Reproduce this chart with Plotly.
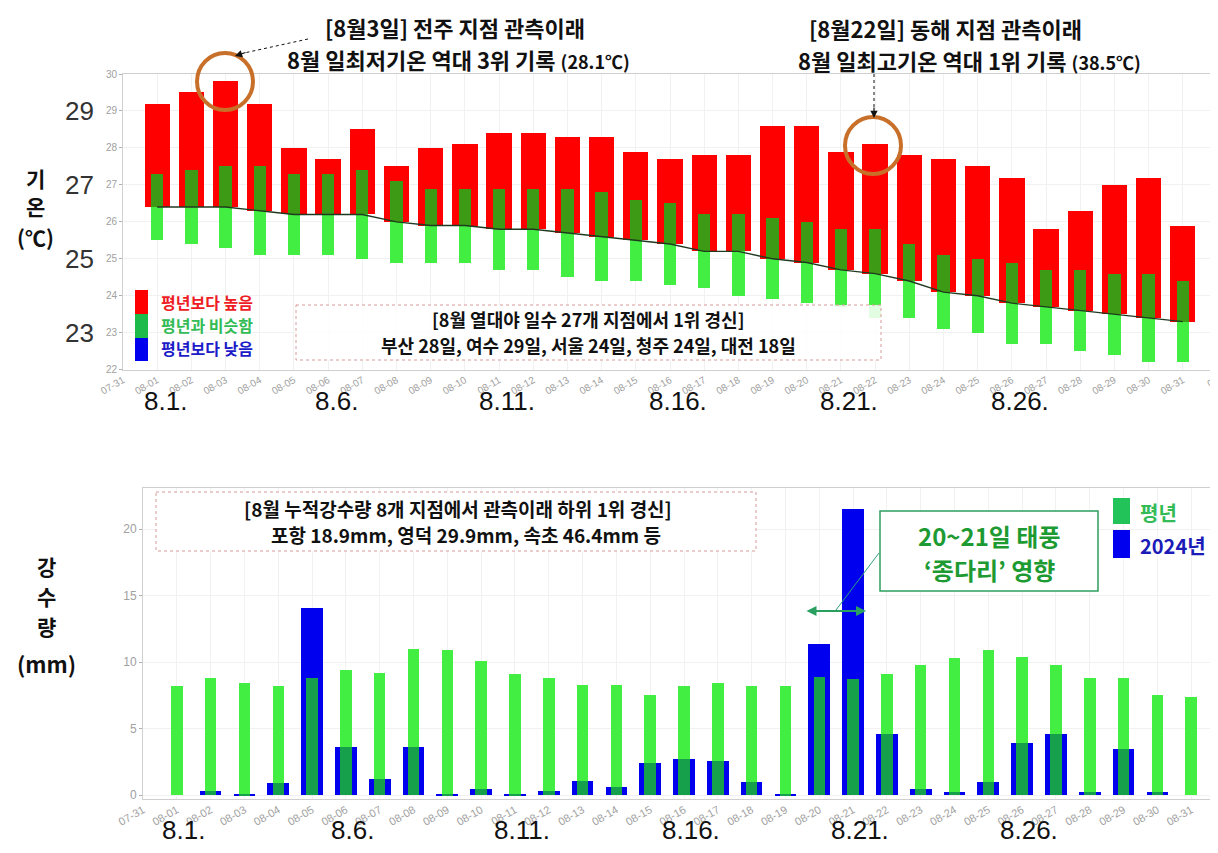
import plotly.graph_objects as go

W, H = 1218, 853

# ---------------- data ----------------
days = list(range(1, 32))
tick_vals = list(range(0, 33))
tick_labels = ["07-31"] + [f"08-{d:02d}" for d in range(1, 32)] + ["09"]
date_label_days = [1, 6, 11, 16, 21, 26]
date_labels = ["8.1.", "8.6.", "8.11.", "8.16.", "8.21.", "8.26."]

# daily minimum temperature (national mean), August 2024
obs_min = [29.2, 29.5, 29.8, 29.2, 28.0, 27.7, 28.5, 27.5, 28.0, 28.1, 28.4, 28.4, 28.3, 28.3, 27.9, 27.7,
           27.8, 27.8, 28.6, 28.6, 27.9, 28.1, 27.8, 27.7, 27.5, 27.2, 25.8, 26.3, 27.0, 27.2, 25.9]
normal = [26.4, 26.4, 26.4, 26.3, 26.2, 26.2, 26.2, 26.0, 25.9, 25.9, 25.8, 25.8, 25.7, 25.6, 25.5, 25.4,
          25.2, 25.2, 25.0, 24.9, 24.7, 24.6, 24.4, 24.1, 24.0, 23.8, 23.7, 23.6, 23.5, 23.4, 23.3]
normal_high = [27.3, 27.4, 27.5, 27.5, 27.3, 27.3, 27.4, 27.1, 26.9, 26.9, 26.9, 26.9, 26.9, 26.8, 26.6, 26.5,
               26.2, 26.2, 26.1, 26.0, 25.8, 25.8, 25.4, 25.1, 25.0, 24.9, 24.7, 24.7, 24.6, 24.6, 24.4]
normal_low = [25.5, 25.4, 25.3, 25.1, 25.1, 25.1, 25.0, 24.9, 24.9, 24.9, 24.7, 24.7, 24.5, 24.4, 24.4, 24.3,
              24.2, 24.0, 23.9, 23.8, 23.7, 23.4, 23.4, 23.1, 23.0, 22.7, 22.7, 22.5, 22.4, 22.2, 22.2]

# daily precipitation (mm)
rain_normal = [8.2, 8.8, 8.4, 8.2, 8.8, 9.4, 9.2, 11.0, 10.9, 10.1, 9.1, 8.8, 8.3, 8.3, 7.5, 8.2,
               8.4, 8.2, 8.2, 8.9, 8.7, 9.1, 9.8, 10.3, 10.9, 10.4, 9.8, 8.8, 8.8, 7.5, 7.4]
rain_2024 = [0.0, 0.3, 0.05, 0.9, 14.1, 3.6, 1.2, 3.6, 0.05, 0.45, 0.05, 0.3, 1.1, 0.65, 2.4, 2.7,
             2.6, 1.0, 0.05, 11.4, 21.5, 4.6, 0.45, 0.25, 1.0, 3.9, 4.6, 0.25, 3.5, 0.25, 0.0]

temp_ticks = [22, 23, 24, 25, 26, 27, 28, 29, 30]
temp_big_ticks = [29, 27, 25, 23]
rain_ticks = [0, 5, 10, 15, 20]

FONT = "Noto Sans CJK KR"
RED = "#ff0000"
LGREEN = "#42ee42"
DGREEN = "#3c9a14"
BLUE = "#0000ee"
OVER = "#17a04c"


def px(x):
    return x / W


def py(y):
    return 1 - y / H


fig = go.Figure()

# ---------------- top: temperature ----------------
fig.add_trace(go.Bar(x=days, y=[h - l for h, l in zip(normal_high, normal_low)], base=normal_low,
                     width=0.36, marker=dict(color=LGREEN, line=dict(width=0)),
                     xaxis="x", yaxis="y", showlegend=False))
fig.add_trace(go.Bar(x=days, y=[o - n for o, n in zip(obs_min, normal)], base=normal,
                     width=0.74, marker=dict(color=RED, line=dict(width=0)),
                     xaxis="x", yaxis="y", showlegend=False))
fig.add_trace(go.Bar(x=days, y=[min(h, o) - n for h, o, n in zip(normal_high, obs_min, normal)], base=normal,
                     width=0.36, marker=dict(color=DGREEN, line=dict(width=0)),
                     xaxis="x", yaxis="y", showlegend=False))
fig.add_trace(go.Scatter(x=days, y=normal, mode="lines", line=dict(color="#203a20", width=1.4),
                         xaxis="x", yaxis="y", showlegend=False))

# ---------------- bottom: precipitation ----------------
fig.add_trace(go.Bar(x=days, y=rain_2024, width=0.64, marker=dict(color=BLUE, line=dict(width=0)),
                     xaxis="x2", yaxis="y2", showlegend=False))
fig.add_trace(go.Bar(x=days, y=rain_normal, width=0.34, marker=dict(color=LGREEN, line=dict(width=0)),
                     xaxis="x2", yaxis="y2", showlegend=False))
fig.add_trace(go.Bar(x=days, y=[min(a, b) for a, b in zip(rain_normal, rain_2024)], width=0.34,
                     marker=dict(color=OVER, line=dict(width=0)),
                     xaxis="x2", yaxis="y2", showlegend=False))

axis_common = dict(showgrid=True, gridcolor="#f1f1f1", showline=True, linecolor="#cfcfcf", mirror=True,
                   zeroline=False, automargin=False)

fig.update_layout(
    width=W, height=H, margin=dict(l=0, r=0, t=0, b=0),
    paper_bgcolor="white", plot_bgcolor="white", barmode="overlay", bargap=0,
    font=dict(family=FONT, color="#111"),
    xaxis=dict(domain=[px(115), px(1209)], range=[0, 32], tickvals=tick_vals, ticktext=tick_labels,
               tickangle=-30, tickfont=dict(size=10, color="#a0a0a0", family="Liberation Sans"),
               anchor="y", **axis_common),
    yaxis=dict(domain=[py(361.7), py(66)], range=[22, 30], tickvals=temp_ticks,
               tickfont=dict(size=10, color="#a0a0a0", family="Liberation Sans"),
               ticks="outside", ticklen=3, tickcolor="#b0b0b0", anchor="x", **axis_common),
    xaxis2=dict(domain=[px(135), px(1217)], range=[0, 32], tickvals=tick_vals, ticktext=tick_labels,
                tickangle=-30, tickfont=dict(size=11, color="#a0a0a0", family="Liberation Sans"),
                anchor="y2", **axis_common),
    yaxis2=dict(domain=[py(790.5), py(480)], range=[-0.25, 23.1], tickvals=rain_ticks,
                tickfont=dict(size=12, color="#a0a0a0", family="Liberation Sans"),
                ticks="outside", ticklen=3, tickcolor="#b0b0b0", anchor="x2", **axis_common),
)

ann = []
shapes = []


def text(x, y, t, size, color="#111", bold=False, xanchor="center", family=FONT, **kw):
    ann.append(dict(x=px(x), y=py(y), xref="paper", yref="paper", text=(f"<b>{t}</b>" if bold else t),
                    showarrow=False, xanchor=xanchor, yanchor="middle",
                    font=dict(size=size, color=color, family=family), **kw))


# big y labels on the temperature panel
for v in temp_big_ticks:
    ann.append(dict(x=px(88), y=v, xref="paper", yref="y", text=str(v), showarrow=False, xanchor="right",
                    yanchor="middle", font=dict(size=26, color="#333", family="Liberation Sans")))

# big date labels
for d, lab in zip(date_label_days, date_labels):
    ann.append(dict(x=d, y=py(393), xref="x", yref="paper", text=lab, showarrow=False, xshift=8,
                    font=dict(size=26, color="#111", family="Liberation Sans")))
    ann.append(dict(x=d, y=py(839), xref="x2", yref="paper", text=lab, showarrow=False, xshift=7,
                    font=dict(size=26, color="#111", family="Liberation Sans")))

# y axis titles
text(27, 170, "기", 21, bold=True)
text(27, 198, "온", 21, bold=True)
text(27, 229, "(℃)", 21, bold=True)
text(38, 558, "강", 21, bold=True)
text(38, 588, "수", 21, bold=True)
text(38, 618, "량", 21, bold=True)
text(38, 655, "(mm)", 22, bold=True)

# top headline annotations
text(447, 19, "[8월3일] 전주 지점 관측이래", 22, bold=True)
text(450, 51, "8월 일최저기온 역대 3위 기록 <span style='font-size:18px'>(28.1℃)</span>", 22, bold=True)
text(937, 20, "[8월22일] 동해 지점 관측이래", 22, bold=True)
text(961, 52, "8월 일최고기온 역대 1위 기록 <span style='font-size:18px'>(38.5℃)</span>", 22, bold=True)

# dashed arrows
shapes.append(dict(type="line", xref="paper", yref="paper", x0=px(300), y0=py(31), x1=px(236), y1=py(45),
                   line=dict(color="#111", width=1, dash="dot")))
ann.append(dict(x=px(227), y=py(48), xref="paper", yref="paper", text="", showarrow=True, ax=12, ay=-4,
                arrowhead=2, arrowsize=1.2, arrowwidth=1.2, arrowcolor="#111"))
shapes.append(dict(type="line", xref="paper", yref="paper", x0=px(866), y0=py(66), x1=px(866), y1=py(100),
                   line=dict(color="#111", width=1, dash="dot")))
ann.append(dict(x=px(866), y=py(110), xref="paper", yref="paper", text="", showarrow=True, ax=0, ay=-12,
                arrowhead=2, arrowsize=1.2, arrowwidth=1.2, arrowcolor="#111"))

# highlight circles
shapes.append(dict(type="circle", xref="paper", yref="paper", x0=px(189), x1=px(245), y0=py(45), y1=py(102),
                   line=dict(color="#c8702a", width=4), layer="above"))
shapes.append(dict(type="circle", xref="paper", yref="paper", x0=px(837), x1=px(893), y0=py(109), y1=py(166),
                   line=dict(color="#c8702a", width=4), layer="above"))

# top legend
for (y0, y1, c) in [(282, 306, RED), (306, 330, "#1dbb4a"), (330, 353, BLUE)]:
    shapes.append(dict(type="rect", xref="paper", yref="paper", x0=px(127), x1=px(140), y0=py(y0), y1=py(y1),
                       fillcolor=c, line=dict(width=0), layer="above"))
text(151, 294, "평년보다 높음", 16, color="#ee1c24", bold=True, xanchor="left")
text(151, 317, "평년과 비슷함", 16, color="#33bb55", bold=True, xanchor="left")
text(151, 340, "평년보다 낮음", 16, color="#1b1bc8", bold=True, xanchor="left")

# top info box
shapes.append(dict(type="rect", xref="paper", yref="paper", x0=px(288), x1=px(873), y0=py(297), y1=py(352),
                   fillcolor="rgba(255,255,255,0.85)", line=dict(color="#d89a9a", width=1, dash="dot"),
                   layer="above"))
text(580, 311, "[8월 열대야 일수 27개 지점에서 1위 경신]", 18, bold=True)
text(580, 337, "부산 28일, 여수 29일, 서울 24일, 청주 24일, 대전 18일", 18, bold=True)

# bottom info box
shapes.append(dict(type="rect", xref="paper", yref="paper", x0=px(148), x1=px(748), y0=py(484), y1=py(543),
                   fillcolor="white", line=dict(color="#d89a9a", width=1, dash="dot"), layer="above"))
text(450, 500, "[8월 누적강수량 8개 지점에서 관측이래 하위 1위 경신]", 19, bold=True)
text(458, 526, "포항 18.9mm, 영덕 29.9mm, 속초 46.4mm 등", 19, bold=True)

# typhoon box
shapes.append(dict(type="rect", xref="paper", yref="paper", x0=px(872), x1=px(1090), y0=py(503), y1=py(583),
                   fillcolor="white", line=dict(color="#2e9e5e", width=1.5), layer="above"))
text(981, 527, "20~21일 태풍", 24, color="#1d9a32", bold=True)
text(981, 561, "‘종다리’ 영향", 24, color="#1d9a32", bold=True)
shapes.append(dict(type="line", xref="paper", yref="paper", x0=px(871), y0=py(545), x1=px(828), y1=py(602),
                   line=dict(color="#2e9e7e", width=1)))
ann.append(dict(x=px(858), y=py(603), xref="paper", yref="paper", text="", showarrow=True, ax=-61, ay=0,
                arrowhead=2, startarrowhead=2, arrowside="end+start", arrowsize=1, arrowwidth=2,
                arrowcolor="#2aa060"))

# bottom legend
shapes.append(dict(type="rect", xref="paper", yref="paper", x0=px(1105), x1=px(1122), y0=py(490), y1=py(516),
                   fillcolor="#22c45a", line=dict(width=0), layer="above"))
shapes.append(dict(type="rect", xref="paper", yref="paper", x0=px(1105), x1=px(1122), y0=py(522), y1=py(550),
                   fillcolor=BLUE, line=dict(width=0), layer="above"))
text(1130, 504, "평년", 20, color="#33bb55", bold=True, xanchor="left")
text(1130, 537, "2024년", 20, color="#1b1bb8", bold=True, xanchor="left")

fig.update_layout(annotations=ann, shapes=shapes)
fig.write_html("out.html")
